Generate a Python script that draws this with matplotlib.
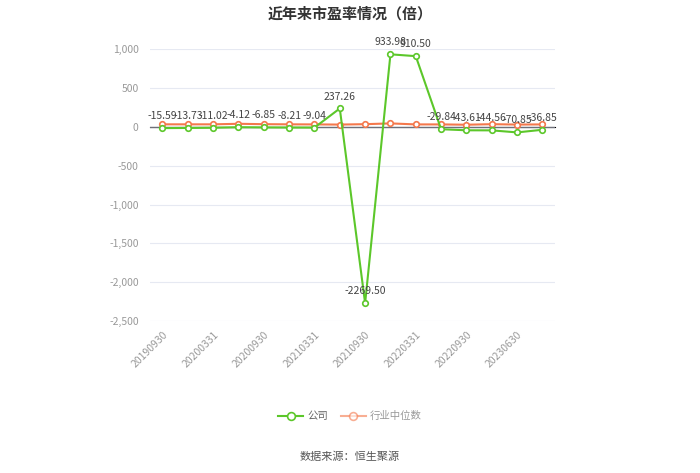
import numpy as np
import matplotlib
matplotlib.use('Agg')
import matplotlib.pyplot as plt

plt.rcParams['font.family'] = ['Noto Sans CJK SC', 'DejaVu Sans']

# data
dates = ['20190930', '20191231', '20200331', '20200630', '20200930', '20201231',
         '20210331', '20210630', '20210930', '20211231', '20220331', '20220630',
         '20220930', '20221231', '20230630', '20230930']
company = [-15.59, -13.73, -11.02, -4.12, -6.85, -8.21, -9.04, 237.26,
           -2269.50, 933.98, 910.50, -29.84, -43.61, -44.56, -70.85, -36.85]
industry = [33, 33, 33, 40, 35, 33, 32, 30, 35, 45, 32, 32, 28, 35, 30, 32]
yticks = [1000, 500, 0, -500, -1000, -1500, -2000, -2500]

green = '#5cc72a'
orange = '#f4784c'

fig = plt.figure(figsize=(7, 4.73), dpi=100)
ax = fig.add_axes([0.214, 0.321, 0.579, 0.575])

x = np.arange(len(dates))
ax.plot(x, industry, color=orange, lw=1.5, marker='o', ms=4,
        mfc='white', mec=orange, mew=1.2, zorder=3, label='行业中位数')
ax.plot(x, company, color=green, lw=1.5, marker='o', ms=4,
        mfc='white', mec=green, mew=1.2, zorder=4, label='公司')

for xi, v in zip(x, company):
    ax.annotate(f'{v:.2f}', (xi, v), xytext=(0, 5), textcoords='offset points',
                ha='center', va='bottom', fontsize=7.5, color='#444444', zorder=5)

ax.set_xlim(-0.5, len(dates) - 0.5)
ax.set_ylim(-2500, 1000)
ax.set_yticks(yticks)
ax.set_yticklabels([f'{t:,}' for t in yticks])
ax.grid(axis='y', color='#e6e9f2', lw=0.8)
ax.set_axisbelow(True)
ax.axhline(0, color='#6e7079', lw=0.9, zorder=2)

ax.set_xticks(x[::2])
ax.set_xticklabels(dates[::2], rotation=45, ha='right', rotation_mode='anchor')
ax.tick_params(axis='x', length=0, labelsize=7.5, labelcolor='#999999', pad=6)
ax.tick_params(axis='y', length=0, labelsize=7.5, labelcolor='#999999', pad=8)
for s in ax.spines.values():
    s.set_visible(False)

# small ticks on the zero line
sec = ax.secondary_xaxis(2500 / 3500)
sec.set_xticks(x[::2])
sec.set_xticklabels([])
sec.tick_params(length=4, color='#6e7079', direction='out')
sec.spines['bottom'].set_visible(False)

fig.text(0.5, 0.972, '近年来市盈率情况（倍）', ha='center', va='center',
         fontsize=10.8, fontweight='bold', color='#333333')

h, l = ax.get_legend_handles_labels()
leg = fig.legend([h[1], h[0]], [l[1], l[0]], loc='center', bbox_to_anchor=(0.5, 0.12),
                 ncol=2, frameon=False, fontsize=7.5, handlelength=2.4,
                 columnspacing=1.2, handletextpad=0.4, markerscale=1.4)
for t in leg.get_texts():
    t.set_color('#666666')
leg.legend_handles[1].set_alpha(0.6)
leg.get_texts()[1].set_color('#999999')

fig.text(0.5, 0.034, '数据来源：恒生聚源', ha='center', va='center',
         fontsize=8, color='#555555')

fig.savefig('out.png', dpi=100)
